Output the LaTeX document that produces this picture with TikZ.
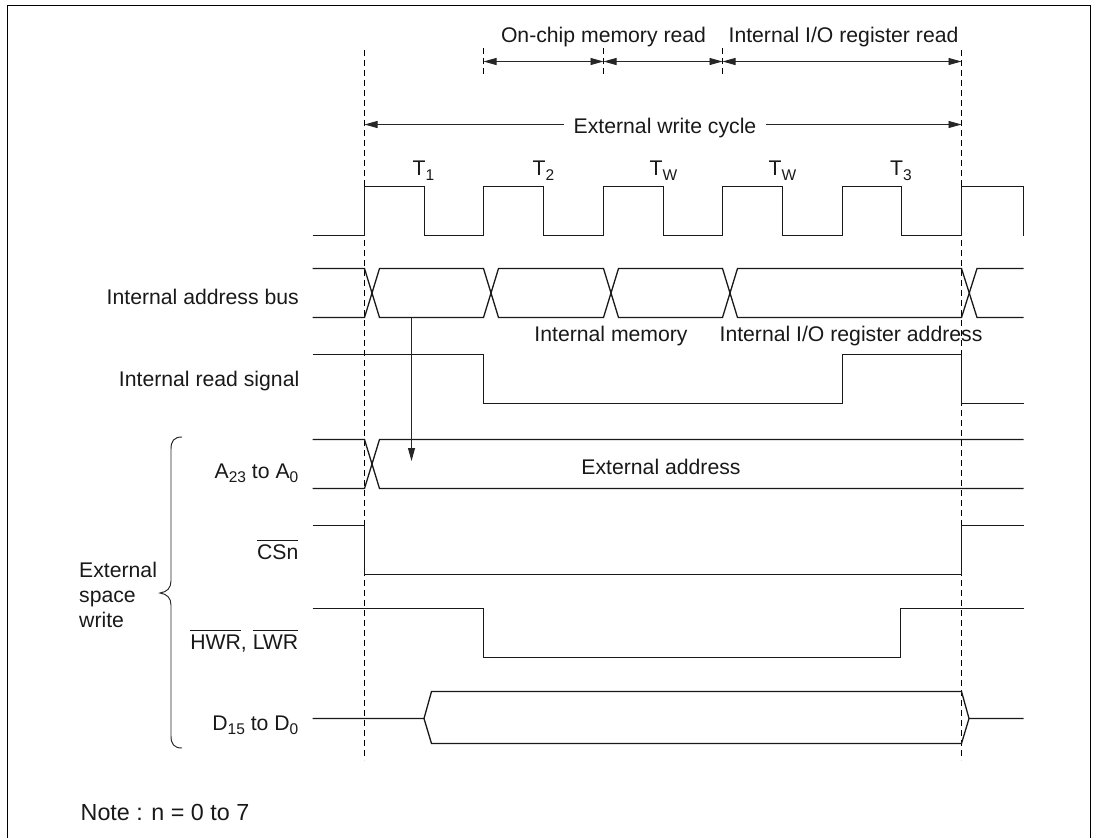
\documentclass[tikz,border=0pt]{standalone}
\usepackage{fontspec}
\setmainfont{Liberation Sans}
\usetikzlibrary{arrows.meta}
\newcommand{\sbs}[1]{\raisebox{-4.5pt}{\fontsize{15.5}{17}\selectfont #1}}
\newcommand{\ovl}[1]{\leavevmode\vbox{\hrule height 1pt\kern 3pt\hbox{#1}}}
\tikzset{
  wave/.style={line width=1.3pt,line join=miter,color=black!90},
  guide/.style={line width=0.95pt,dash pattern=on 6pt off 4pt,color=black},
  span/.style={line width=0.95pt,color=black!85,{Triangle[length=13pt,width=7pt]}-{Triangle[length=13pt,width=7pt]}},
  single/.style={line width=0.95pt,color=black!85,-{Triangle[length=13pt,width=7pt]}},
  lab/.style={inner sep=0pt,anchor=base,yshift=-1pt,text=black!90,font=\fontsize{21.2}{24}\selectfont},
  rlab/.style={lab,anchor=base east},
  llab/.style={lab,anchor=base west},
}
\begin{document}
\begin{tikzpicture}[x=1pt,y=-1pt]
\useasboundingbox (0,0) rectangle (1100,838);
% frame
\draw[line width=1.1pt] (7.5,838) -- (7.5,5.5) -- (1090.5,5.5) -- (1090.5,838);
% named time marks
\coordinate (g1t) at (364.5,50); \coordinate (g1b) at (364.5,760);
\coordinate (g2t) at (961.5,50); \coordinate (g2b) at (961.5,760);
\coordinate (s1t) at (483.5,48); \coordinate (s1b) at (483.5,75);
\coordinate (s2t) at (603.5,48);   \coordinate (s2b) at (603.5,75);
\coordinate (s3t) at (722.5,48); \coordinate (s3b) at (722.5,75);
\draw[guide] (g1t) -- (g1b);
\draw[guide] (g2t) -- (g2b);
\draw[guide] (s1t) -- (s1b);
\draw[guide] (s2t) -- (s2b);
\draw[guide] (s3t) -- (s3b);
% spans
\coordinate (a1) at (483.5,61.5); \coordinate (a2) at (603.5,61.5);
\coordinate (a3) at (722.5,61.5); \coordinate (a4) at (961.5,61.5);
\draw[span] (a1) -- (a2);
\draw[span] (a2) -- (a3);
\draw[span] (a3) -- (a4);
\node[lab] (onchip) at (603.5,41.5) {On-chip memory read};
\node[lab] (iord) at (843.5,41.5) {Internal I/O register read};
\node[lab] (extw) at (665,132) {External write cycle};
\coordinate (e1) at (364.5,124.5); \coordinate (e2) at (961.5,124.5);
\coordinate (e1t) at (564,124.5); \coordinate (e2t) at (766,124.5);
\draw[single] (e1t) -- (e1);
\draw[single] (e2t) -- (e2);
% T labels
\node[lab] (t1) at (423.5,174.5) {T\sbs{1}};
\node[lab] (t2) at (543.5,174.5) {T\sbs{2}};
\node[lab] (t3) at (663.5,174.5) {T\sbs{W}};
\node[lab] (t4) at (782.5,174.5) {T\sbs{W}};
\node[lab] (t5) at (901,174.5) {T\sbs{3}};
% clock
\draw[wave] (312.5,235.5) -- (364.5,235.5) -- (364.5,186.5) -- (424.5,186.5) -- (424.5,235.5)
 -- (483.5,235.5) -- (483.5,186.5) -- (543.5,186.5) -- (543.5,235.5)
 -- (603.5,235.5) -- (603.5,186.5) -- (663.5,186.5) -- (663.5,235.5)
 -- (722.5,235.5) -- (722.5,186.5) -- (782.5,186.5) -- (782.5,235.5)
 -- (842.5,235.5) -- (842.5,186.5) -- (901.5,186.5) -- (901.5,235.5)
 -- (961.5,235.5) -- (961.5,186.5) -- (1023.5,186.5) -- (1023.5,235.5);
% internal address bus
\draw[wave] (312.5,268.5) -- (364.5,268.5) -- (379.5,317.5) -- (483.5,317.5) -- (498.5,268.5) -- (603.5,268.5) -- (618.5,317.5) -- (722.5,317.5) -- (737.5,268.5) -- (961.5,268.5) -- (977,317.5) -- (1023.5,317.5);
\draw[wave] (312.5,317.5) -- (364.5,317.5) -- (379.5,268.5) -- (483.5,268.5) -- (498.5,317.5) -- (603.5,317.5) -- (618.5,268.5) -- (722.5,268.5) -- (737.5,317.5) -- (961.5,317.5) -- (977,268.5) -- (1023.5,268.5);
\node[rlab] (l1) at (299,303.5) {Internal address bus};
\node[lab] (imem) at (611,340) {Internal memory};
\node[lab] (iioa) at (851,340) {Internal I/O register address};
% internal read
\draw[wave] (312.5,354.5) -- (483.5,354.5) -- (483.5,403.5) -- (842.5,403.5) -- (842.5,354.5) -- (961.5,354.5) -- (961.5,403.5) -- (1023.5,403.5);
\node[rlab] (l2) at (299.5,385.5) {Internal read signal};
% address
\draw[wave] (312.5,439.5) -- (364.5,439.5) -- (379.5,488.5) -- (1023.5,488.5);
\draw[wave] (312.5,488.5) -- (364.5,488.5) -- (379.5,439.5) -- (1023.5,439.5);
\node[rlab] (l3) at (298.5,477) {A\sbs{23} to A\sbs{0}};
\node[lab] (eaddr) at (661,473) {External address};
% CS
\draw[wave] (312.5,525.5) -- (364.5,525.5) -- (364.5,574.5) -- (961.5,574.5) -- (961.5,525.5) -- (1023.5,525.5);
\node[rlab] (l4) at (298.5,558) {\ovl{CSn}};
% WR
\draw[wave] (312.5,608.5) -- (483.5,608.5) -- (483.5,657.5) -- (900.5,657.5) -- (900.5,608.5) -- (1023.5,608.5);
\node[rlab] (l5) at (298.5,648) {\ovl{HWR}, \ovl{LWR}};
% data
\draw[wave] (312.5,718.5) -- (424,718.5) -- (431.5,691.5) -- (961.5,691.5) -- (969,718.5) -- (1023.5,718.5);
\draw[wave] (424,718.5) -- (431.5,743.5) -- (961.5,743.5) -- (969,718.5);
\node[rlab] (l6) at (298.5,729) {D\sbs{15} to D\sbs{0}};
% causal arrow
\coordinate (c1) at (411.5,317.5); \coordinate (c2) at (411.5,461);
\draw[single] (c1) -- (c2);
% brace
\draw[line width=0.95pt,color=black!85] (182,437) .. controls (174,437) and (171,441) .. (171,449) -- (171,581)
  .. controls (171,588) and (167,592) .. (160,593) .. controls (167,594) and (171,598) .. (171,605)
  -- (171,736) .. controls (171,744) and (174,748) .. (182,748);
\node[llab] (es1) at (79,576) {External};
\node[llab] (es2) at (79,601) {space};
\node[llab] (es3) at (79,626) {write};
\node[llab,font=\fontsize{23.3}{26}\selectfont] (note) at (80.5,819) {Note : n = 0 to 7};
\end{tikzpicture}
\end{document}
